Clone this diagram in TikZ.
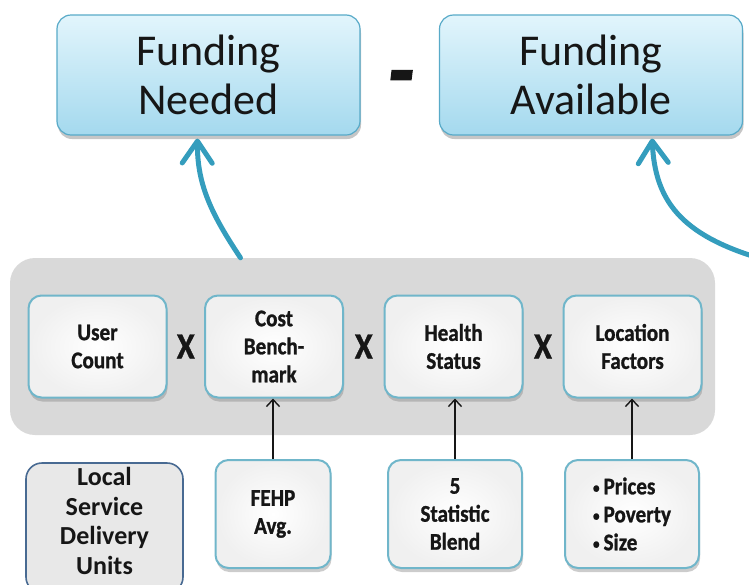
\documentclass[tikz,border=0pt]{standalone}
\usepackage{fontspec}
\setmainfont{Carlito}
\newfontfamily\heavyfont{Carlito Bold}[FakeBold=1, FakeStretch=0.88]
\newfontfamily\minusfont{Carlito Bold Italic}[FakeBold=2.5]
\usetikzlibrary{arrows.meta,shadows}

\definecolor{feedblue}{RGB}{52,157,189}
\definecolor{fundtop}{RGB}{226,245,252}
\definecolor{fundbot}{RGB}{164,217,238}
\definecolor{fundline}{RGB}{88,170,200}
\definecolor{boxline}{RGB}{112,182,202}
\definecolor{panelgray}{RGB}{217,217,217}
\definecolor{unitfill}{RGB}{232,232,232}
\definecolor{unitline}{RGB}{72,106,146}
\definecolor{ink}{RGB}{22,22,22}

\begin{document}
\begin{tikzpicture}[x=1pt,y=-1pt,
    fundbox/.style={rounded corners=14pt, draw=fundline, line width=1.2pt,
        top color=fundtop, bottom color=fundbot, minimum width=303pt,
        minimum height=120pt, align=center, text=ink,
        font=\fontsize{44}{49}\selectfont,
        drop shadow={opacity=.45, shadow xshift=1pt, shadow yshift=-4pt}},
    factorbox/.style={rounded corners=13pt, draw=boxline, line width=2pt,
        inner color=white, outer color=gray!12, minimum width=138pt,
        minimum height=102pt, align=center, text=ink,
        font=\heavyfont\fontsize{24}{28}\selectfont,
        drop shadow={opacity=.4, shadow xshift=1pt, shadow yshift=-4pt}},
    inputbox/.style={factorbox, minimum height=108pt},
    timesmark/.style={font=\heavyfont\fontsize{37}{37}\selectfont, text=ink},
    feed/.style={feedblue, line width=5pt, line cap=round,
        -{Straight Barb[length=22pt, width=30pt, round]}},
    uparrow/.style={ink, line width=1.4pt,
        -{Straight Barb[length=7pt, width=13pt]}}]
\newcommand\dotitem{{\fontsize{15}{15}\selectfont\raisebox{1.5pt}{\textbullet}}\,}
\useasboundingbox (0,0) rectangle (749,584);

% the two funding totals
\node[fundbox] (need) at (208.5,75) {Funding\\Needed};
\node[fundbox] (avail) at (591,75) {Funding\\Available};
\node[font=\minusfont\fontsize{84}{84}\selectfont, text=ink, inner sep=0]
    (minus) at (401,85) {-};

% gray band with the four factors
\node[rounded corners=25pt, fill=panelgray, minimum width=705pt,
    minimum height=177pt] (panel) at (362.5,346.5) {};
\node[factorbox] (users) at (97.5,346.5) {User\\Count};
\node[factorbox] (bench) at (274,346.5) {Cost\\Bench-\\mark};
\node[factorbox] (health) at (453.5,346.5) {Health\\Status};
\node[factorbox] (place) at (632.5,346.5) {Location\\Factors};
\path (users) -- (bench) node[midway, timesmark] (x1) {X};
\path (bench) -- (health) node[midway, timesmark] (x2) {X};
\path (health) -- (place) node[midway, timesmark] (x3) {X};

% inputs below the band
\node[rounded corners=16pt, draw=unitline, line width=1.6pt, fill=unitfill,
    minimum width=157pt, minimum height=130pt, align=center, text=ink,
    text depth=14pt, font=\bfseries\fontsize{26}{29.5}\selectfont]
    (units) at (104.5,528) {Local\\Service\\Delivery\\Units};
\node[inputbox, minimum width=115pt] (fehp) at (273,514) {FEHP\\Avg.};
\node[inputbox, minimum width=134pt] (blend) at (455,514) {5\\Statistic\\Blend};
\node[inputbox, minimum width=134pt, align=left] (factors) at (632,514)
    {\dotitem Prices\\\dotitem Poverty\\\dotitem Size};

\draw[uparrow] (fehp.north) -- (fehp.north |- bench.south);
\draw[uparrow] (blend.north) -- (blend.north |- health.south);
\draw[uparrow] (factors.north) -- (factors.north |- place.south);

% feeds up to the totals
\coordinate (offpage) at (762,259);
\draw[feed, shorten >=3pt] ([xshift=-122pt]panel.north) .. controls (212,215) and (197,185)
    .. ([xshift=-11pt]need.south);
\draw[feed, shorten >=3pt] (offpage) .. controls (680,235) and (655,200)
    .. ([xshift=61pt]avail.south);
\end{tikzpicture}
\end{document}
